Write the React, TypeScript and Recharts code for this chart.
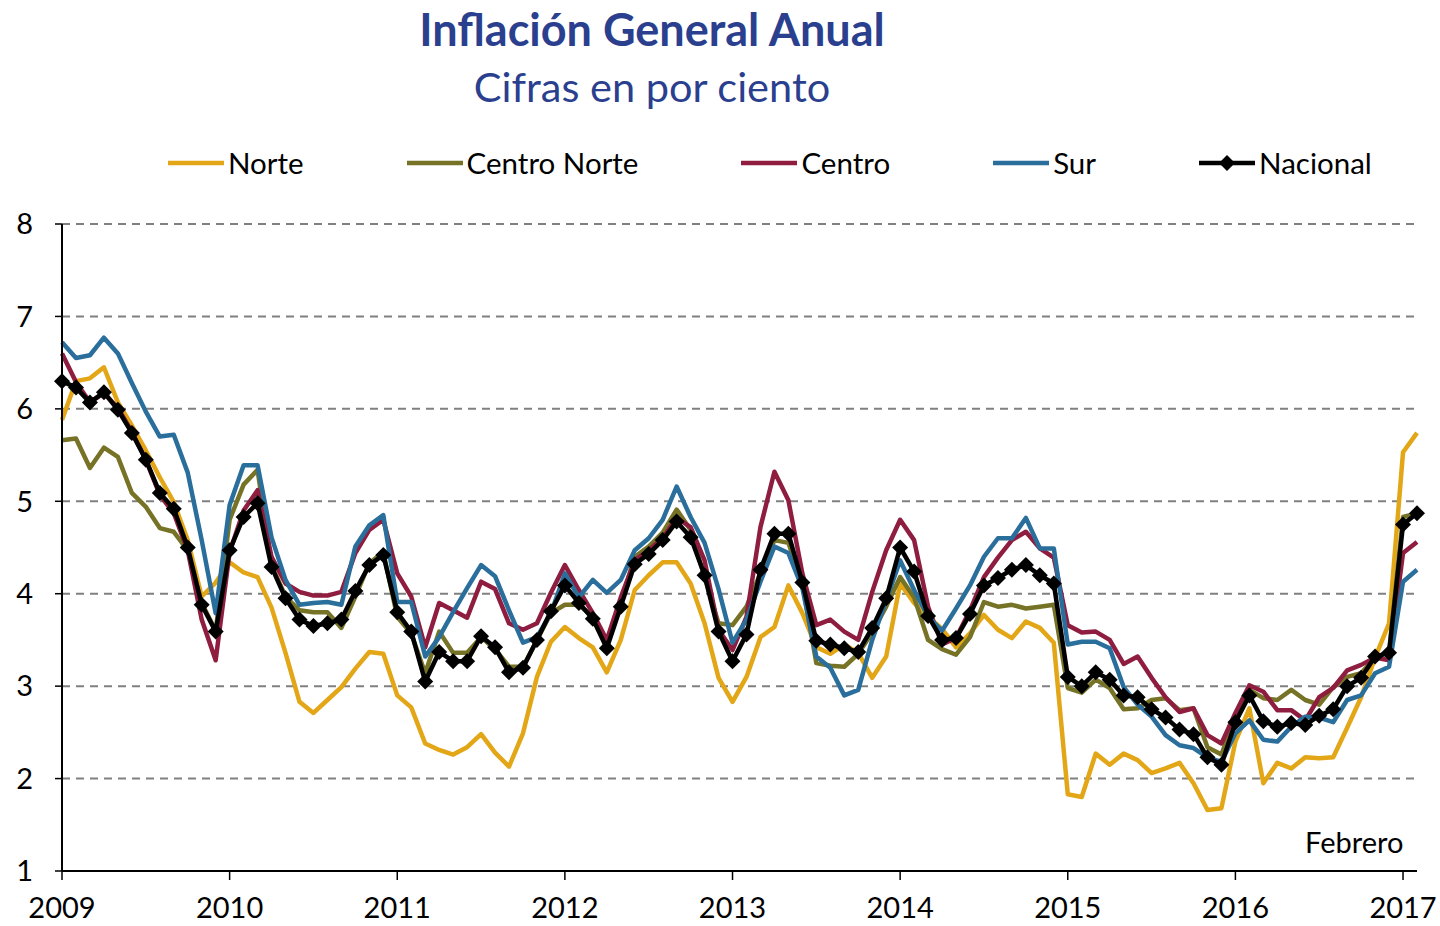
import React from 'react';
import { LineChart, Line, XAxis, YAxis, CartesianGrid, Legend } from 'recharts';

// Etiquetas del eje X (enero de cada año)
const yearLabels = ['2009', '2010', '2011', '2012', '2013', '2014', '2015', '2016', '2017'];
const yTicks = [1, 2, 3, 4, 5, 6, 7, 8];

// Inflación anual mensual, ene-2009 a feb-2017
const norte = [
  5.88, 6.30, 6.33, 6.45, 6.07, 5.82, 5.55, 5.26, 4.99, 4.58, 3.97, 4.12,
  4.34, 4.23, 4.18, 3.85, 3.36, 2.83, 2.71, 2.85, 2.99, 3.19, 3.37, 3.35,
  2.90, 2.77, 2.38, 2.31, 2.26, 2.34, 2.48, 2.28, 2.13, 2.49, 3.10, 3.48,
  3.64, 3.52, 3.42, 3.15, 3.50, 4.04, 4.20, 4.34, 4.34, 4.11, 3.68, 3.09,
  2.83, 3.10, 3.53, 3.64, 4.09, 3.79, 3.42, 3.35, 3.45, 3.36, 3.09, 3.32,
  4.11, 3.90, 3.75, 3.62, 3.42, 3.57, 3.77, 3.61, 3.52, 3.70, 3.63, 3.47,
  1.83, 1.80, 2.27, 2.15, 2.27, 2.20, 2.06, 2.11, 2.17, 1.95, 1.66, 1.68,
  2.40, 2.76, 1.95, 2.17, 2.11, 2.23, 2.22, 2.23, 2.55, 2.88, 3.31, 3.68,
  5.53, 5.74,
];

const centroNorte = [
  5.66, 5.68, 5.36, 5.58, 5.48, 5.09, 4.94, 4.71, 4.67, 4.47, 3.90, 3.60,
  4.80, 5.18, 5.34, 4.31, 3.97, 3.82, 3.80, 3.80, 3.63, 3.97, 4.33, 4.45,
  3.75, 3.57, 3.14, 3.59, 3.36, 3.36, 3.53, 3.40, 3.21, 3.21, 3.50, 3.79,
  3.88, 3.88, 3.75, 3.47, 3.90, 4.40, 4.51, 4.66, 4.91, 4.69, 4.18, 3.68,
  3.66, 3.86, 4.22, 4.58, 4.55, 4.11, 3.25, 3.22, 3.21, 3.35, 3.58, 3.86,
  4.18, 3.96, 3.50, 3.40, 3.34, 3.53, 3.91, 3.86, 3.88, 3.84, 3.86, 3.88,
  2.98, 2.93, 3.07, 2.98, 2.75, 2.76, 2.85, 2.87, 2.74, 2.76, 2.34, 2.26,
  2.67, 2.96, 2.87, 2.85, 2.96, 2.85, 2.80, 2.99, 3.10, 3.14, 3.31, 3.37,
  4.83, 4.87,
];

const centro = [
  6.60, 6.29, 6.07, 6.17, 6.01, 5.75, 5.45, 5.07, 4.87, 4.47, 3.72, 3.28,
  4.45, 4.90, 5.12, 4.40, 4.11, 4.02, 3.98, 3.98, 4.02, 4.44, 4.69, 4.80,
  4.22, 3.97, 3.42, 3.90, 3.82, 3.74, 4.13, 4.05, 3.68, 3.61, 3.68, 4.01,
  4.31, 4.04, 3.79, 3.50, 3.96, 4.36, 4.47, 4.60, 4.82, 4.72, 4.36, 3.61,
  3.39, 3.75, 4.72, 5.32, 5.01, 4.22, 3.66, 3.72, 3.59, 3.50, 4.02, 4.47,
  4.80, 4.58, 3.86, 3.45, 3.52, 3.82, 4.18, 4.39, 4.58, 4.67, 4.49, 4.39,
  3.66, 3.58, 3.59, 3.50, 3.24, 3.32, 3.09, 2.88, 2.72, 2.76, 2.47, 2.38,
  2.71, 3.01, 2.94, 2.74, 2.74, 2.63, 2.88, 2.98, 3.17, 3.23, 3.31, 3.28,
  4.44, 4.56,
];

const sur = [
  6.72, 6.55, 6.58, 6.77, 6.60, 6.28, 5.97, 5.70, 5.72, 5.31, 4.58, 3.79,
  4.96, 5.39, 5.39, 4.61, 4.15, 3.88, 3.90, 3.91, 3.88, 4.51, 4.74, 4.85,
  3.91, 3.91, 3.32, 3.53, 3.80, 4.06, 4.31, 4.19, 3.82, 3.47, 3.53, 3.79,
  4.22, 3.96, 4.15, 4.01, 4.15, 4.47, 4.60, 4.80, 5.16, 4.83, 4.55, 4.05,
  3.47, 3.72, 4.13, 4.51, 4.44, 4.06, 3.32, 3.20, 2.90, 2.96, 3.50, 3.93,
  4.36, 4.04, 3.75, 3.60, 3.84, 4.09, 4.40, 4.60, 4.60, 4.82, 4.49, 4.49,
  3.45, 3.48, 3.48, 3.41, 2.99, 2.80, 2.67, 2.47, 2.36, 2.33, 2.23, 2.18,
  2.49, 2.63, 2.42, 2.40, 2.56, 2.67, 2.66, 2.61, 2.85, 2.90, 3.14, 3.21,
  4.13, 4.26,
];

const nacional = [
  6.30, 6.23, 6.07, 6.18, 5.99, 5.74, 5.45, 5.09, 4.92, 4.50, 3.88, 3.59,
  4.47, 4.83, 4.98, 4.29, 3.95, 3.72, 3.65, 3.68, 3.72, 4.03, 4.31, 4.42,
  3.80, 3.59, 3.05, 3.37, 3.27, 3.27, 3.54, 3.42, 3.15, 3.20, 3.50, 3.81,
  4.09, 3.90, 3.73, 3.41, 3.86, 4.32, 4.43, 4.58, 4.78, 4.61, 4.20, 3.59,
  3.27, 3.56, 4.26, 4.65, 4.65, 4.12, 3.49, 3.45, 3.41, 3.37, 3.63, 3.95,
  4.50, 4.24, 3.76, 3.50, 3.52, 3.78, 4.09, 4.17, 4.26, 4.31, 4.20, 4.11,
  3.10, 3.00, 3.15, 3.07, 2.90, 2.88, 2.75, 2.66, 2.53, 2.48, 2.23, 2.15,
  2.61, 2.90, 2.62, 2.56, 2.60, 2.58, 2.68, 2.75, 3.00, 3.09, 3.32, 3.36,
  4.75, 4.87,
];

const series = [
  { key: 'norte', name: 'Norte', color: '#E2A617' },
  { key: 'centroNorte', name: 'Centro Norte', color: '#767226' },
  { key: 'centro', name: 'Centro', color: '#8E1D3F' },
  { key: 'sur', name: 'Sur', color: '#2A6E9C' },
  { key: 'nacional', name: 'Nacional', color: '#000000' },
];

const data = nacional.map((v, i) => ({
  idx: i,
  norte: norte[i],
  centroNorte: centroNorte[i],
  centro: centro[i],
  sur: sur[i],
  nacional: v,
}));

const yearTicks = yearLabels.map((_, i) => i * 12);

const FONT = 'Lato, "Open Sans", sans-serif';
const TITLE_BLUE = '#2B3F8F';

const Diamond = (props: any) => {
  const { cx, cy } = props;
  if (cx == null || cy == null) return null;
  const r = 8;
  return (
    <polygon
      points={`${cx},${cy - r} ${cx + r},${cy} ${cx},${cy + r} ${cx - r},${cy}`}
      fill="#000"
    />
  );
};

const renderLegend = () => (
  <div
    style={{
      display: 'flex',
      alignItems: 'center',
      paddingLeft: 168,
      gap: 103,
      fontFamily: FONT,
      fontSize: 29.5,
      color: '#000',
    }}
  >
    {series.map((s) => (
      <div key={s.key} style={{ display: 'flex', alignItems: 'center' }}>
        <svg width={56} height={20}>
          <line x1={0} x2={56} y1={10} y2={10} stroke={s.color} strokeWidth={4.5} />
          {s.key === 'nacional' && <polygon points="28,2 36,10 28,18 20,10" fill="#000" />}
        </svg>
        <span style={{ marginLeft: 4 }}>{s.name}</span>
      </div>
    ))}
  </div>
);

const App: React.FC = () => {
  return (
    <div
      style={{
        position: 'absolute',
        left: 0,
        top: 0,
        width: 1440,
        height: 926,
        background: '#fff',
        fontFamily: FONT,
      }}
    >
      <div
        style={{
          position: 'absolute',
          top: 2,
          left: 0,
          width: 1304,
          textAlign: 'center',
          color: TITLE_BLUE,
        }}
      >
        <div style={{ fontSize: 45, fontWeight: 700, lineHeight: '54px' }}>Inflación General Anual</div>
        <div style={{ fontSize: 41.5, lineHeight: '60px' }}>Cifras en por ciento</div>
      </div>

      <LineChart width={1440} height={926} data={data} margin={{ top: 224, right: 23, left: 0, bottom: 0 }}>
        <CartesianGrid vertical={false} stroke="#808080" strokeWidth={2} strokeDasharray="8 6" />
        <XAxis
          type="number"
          dataKey="idx"
          domain={[0, 97]}
          ticks={yearTicks}
          interval={0}
          tickFormatter={(v: number) => yearLabels[v / 12]}
          height={55}
          axisLine={{ stroke: '#000', strokeWidth: 2 }}
          tickLine={{ stroke: '#000', strokeWidth: 1.5 }}
          tickSize={9}
          tickMargin={17}
          tick={{ fill: '#000', fontSize: 29, fontFamily: FONT }}
        />
        <YAxis
          domain={[1, 8]}
          ticks={yTicks}
          interval={0}
          width={62}
          axisLine={{ stroke: '#000', strokeWidth: 2 }}
          tickLine={{ stroke: '#000', strokeWidth: 1.5 }}
          tickSize={7}
          tickMargin={22}
          tick={{ fill: '#000', fontSize: 29, fontFamily: FONT }}
        />
        <Legend
          verticalAlign="middle"
          layout="horizontal"
          align="center"
          content={renderLegend}
          wrapperStyle={{ top: 145, left: 0, width: 1440 }}
        />
        {series.map((s) => (
          <Line
            key={s.key}
            type="linear"
            dataKey={s.key}
            name={s.name}
            stroke={s.color}
            strokeWidth={4.5}
            strokeLinejoin="round"
            dot={s.key === 'nacional' ? <Diamond /> : false}
            activeDot={false}
            isAnimationActive={false}
          />
        ))}
      </LineChart>

      <div style={{ position: 'absolute', left: 1305, top: 824, fontSize: 29, color: '#000' }}>Febrero</div>
    </div>
  );
};

export default App;
